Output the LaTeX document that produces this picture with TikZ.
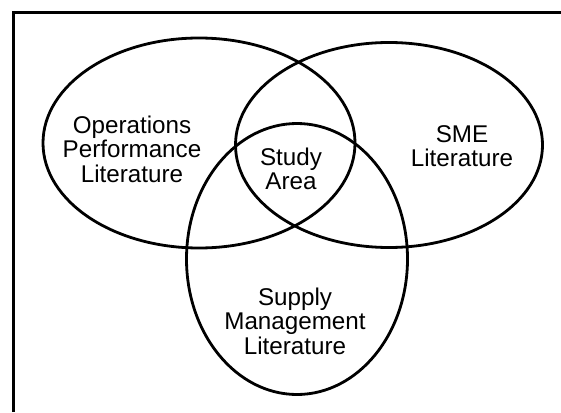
\documentclass[tikz,border=0pt]{standalone}
\usepackage{fontspec}
\setmainfont{Liberation Sans}
\usetikzlibrary{shapes.geometric}

\begin{document}
\begin{tikzpicture}[x=1pt, y=-1pt, every node/.style={inner sep=0cm, text opacity=1}, setline/.style={line width=2.8pt, draw=black}, setlabel/.style={align=center, font=\fontsize{24.2}{24.6}\selectfont}]
    \useasboundingbox (0,0) rectangle (561,412);
    % open frame, only left and top edges show
    \draw[line width=3pt] (13,412) -- (13,13) -- (561,13);

    \node (opsset) at (199,143) [ellipse, setline, minimum width=312pt, minimum height=210pt]{};
    \node (smeset) at (389,145) [ellipse, setline, minimum width=307pt, minimum height=205pt]{};
    \node (supset) at (297,259) [ellipse, setline, minimum width=221pt, minimum height=271pt]{};

    \node (opslabel) at (132,149) [setlabel]{
        Operations \\ Performance \\ Literature
    };
    \node (studylabel) at (291,169) [setlabel]{
        Study \\ Area
    };
    \node (smelabel) at (462,146) [setlabel]{
        SME \\ Literature
    };
    \node (suplabel) at (295,321) [setlabel]{
        Supply \\ Management \\ Literature
    };
\end{tikzpicture}
\end{document}
